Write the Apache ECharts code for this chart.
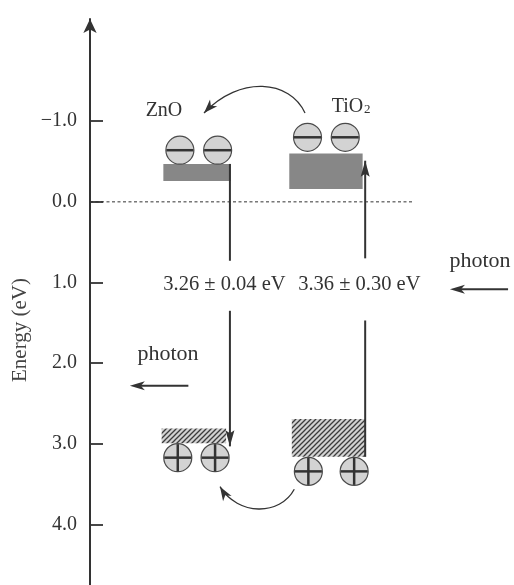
<!DOCTYPE html>
<html><head><meta charset="utf-8">
<script src="https://cdn.jsdelivr.net/npm/echarts@6/dist/echarts.min.js"></script>
<style>html,body{margin:0;padding:0;background:#fff}#c{width:514px;height:585px}</style>
</head><body><div id="c"></div>
<script>
// ---- data (energies in eV, axis points downward) ----
const tickValues = [-1, 0, 1, 2, 3, 4];
const materials = ['ZnO', 'TiO2'];
const cbTop = [-0.47, -0.60];
const cbBottom = [-0.26, -0.16];
const vbTop = [2.81, 2.69];
const vbBottom = [2.99, 3.16];
const gapLabels = ['3.26 ± 0.04 eV', '3.36 ± 0.30 eV'];
const electronEnergy = [-0.64, -0.80];
const holeEnergy = [3.17, 3.34];
const zeroLevel = 0;

// ---- layout (horizontal positions on a 0..100 scale, plus annotation anchors) ----
const layout = {
  cbX: [[17.3, 33.25], [47.0, 64.3]],
  vbX: [[16.9, 32.1], [47.6, 64.9]],
  electronX: [[21.2, 30.1], [51.3, 60.2]],
  holeX: [[20.7, 29.5], [51.5, 62.3]],
  transX: [33.0, 64.9],
  transSegs: [[[-0.47, 0.73], [1.35, 3.03]], [[3.16, 1.47], [0.70, -0.51]]],
  zeroLineEnd: 76,
  matLabel: [[17.45, -1.131], [57.0, -1.181]],
  gapLabelPos: [[17.3, 1.026], [49.1, 1.026]],
  photonText: [[91.98, 0.732], [18.4, 1.889]],
  photonArrow: [[[98.6, 1.083], [84.9, 1.083]], [[23.2, 2.28], [9.4, 2.28]]],
  curves: [
    [[50.71, -1.101], [47.17, -1.510], [35.38, -1.572], [26.89, -1.101]],
    [[48.18, 3.562], [44.81, 3.893], [34.91, 3.893], [30.66, 3.530]]
  ],
  yName: [-16.5, 1.588]
};

const FONT = '"Liberation Serif", "Times New Roman", serif';
const INK = '#333';

function hatchCanvas() {
  const s = 5, c = document.createElement('canvas');
  c.width = c.height = s;
  const g = c.getContext('2d');
  g.fillStyle = '#d2d2d2'; g.fillRect(0, 0, s, s);
  g.strokeStyle = '#3c3c3c'; g.lineWidth = 1.3;
  g.beginPath();
  g.moveTo(-1, s + 1); g.lineTo(s + 1, -1);
  g.moveTo(-1, 1); g.lineTo(1, -1);
  g.moveTo(s - 1, s + 1); g.lineTo(s + 1, s - 1);
  g.stroke();
  return c;
}
const hatch = { image: hatchCanvas(), repeat: 'repeat' };

function arrowHead(tip, from, L, W, notch) {
  const dx = tip[0] - from[0], dy = tip[1] - from[1];
  const len = Math.hypot(dx, dy), ux = dx / len, uy = dy / len, px = -uy, py = ux;
  const bx = tip[0] - ux * L, by = tip[1] - uy * L;
  return { type: 'polygon', shape: { points: [tip, [bx + px * W, by + py * W],
    [tip[0] - ux * (L - notch), tip[1] - uy * (L - notch)], [bx - px * W, by - py * W]] },
    style: { fill: INK } };
}
function line(a, b, w, dash) {
  return { type: 'line', shape: { x1: a[0], y1: a[1], x2: b[0], y2: b[1] },
    style: { stroke: INK, lineWidth: w, lineDash: dash || null } };
}
function text(t, p, size, align, extra) {
  return Object.assign({ type: 'text', style: { text: t, x: p[0], y: p[1], fill: INK,
    font: size + 'px ' + FONT, align: align || 'center', verticalAlign: 'middle' } }, extra || {});
}
function particle(c, plus) {
  const r = 14, g = [{ type: 'circle', shape: { cx: c[0], cy: c[1], r: r },
    style: { fill: '#d3d3d3', stroke: '#4a4a4a', lineWidth: 1.2 } }];
  g.push(line([c[0] - r + 0.5, c[1]], [c[0] + r - 0.5, c[1]], 2.5));
  if (plus) g.push(line([c[0], c[1] - r + 0.5], [c[0], c[1] + r - 0.5], 2.5));
  return g;
}

function renderItem(params, api) {
  const C = p => api.coord(p);
  const kids = [];
  kids.push(line(C([0, zeroLevel]), C([layout.zeroLineEnd, zeroLevel]), 1, [3, 2.5]));
  materials.forEach((m, i) => {
    const a = C([layout.cbX[i][0], cbTop[i]]), b = C([layout.cbX[i][1], cbBottom[i]]);
    kids.push({ type: 'rect', shape: { x: a[0], y: a[1], width: b[0] - a[0], height: b[1] - a[1] }, style: { fill: '#878787' } });
    const c = C([layout.vbX[i][0], vbTop[i]]), d = C([layout.vbX[i][1], vbBottom[i]]);
    kids.push({ type: 'rect', shape: { x: c[0], y: c[1], width: d[0] - c[0], height: d[1] - c[1] }, style: { fill: hatch } });
    layout.electronX[i].forEach(x => particle(C([x, electronEnergy[i]]), false).forEach(k => kids.push(k)));
    layout.holeX[i].forEach(x => particle(C([x, holeEnergy[i]]), true).forEach(k => kids.push(k)));
    const segs = layout.transSegs[i];
    segs.forEach((s, j) => {
      const p1 = C([layout.transX[i], s[0]]), p2 = C([layout.transX[i], s[1]]);
      kids.push(line(p1, p2, 2));
      if (j === segs.length - 1) kids.push(arrowHead(p2, p1, 16, 4.5, 3));
    });
    kids.push(text(gapLabels[i], C(layout.gapLabelPos[i]), 20.5, 'left'));
  });
  kids.push(text('ZnO', C(layout.matLabel[0]), 20, 'center'));
  const t = C(layout.matLabel[1]);
  kids.push(text('TiO', t, 20, 'left'));
  kids.push(text('2', [t[0] + 32.3, t[1] + 3], 13, 'left'));
  layout.photonText.forEach(p => kids.push(text('photon', C(p), 22, 'center')));
  layout.photonArrow.forEach(a => {
    const p1 = C(a[0]), p2 = C(a[1]);
    kids.push(line(p1, [p2[0] + 6, p2[1]], 2));
    kids.push(arrowHead(p2, p1, 15, 4.5, 4));
  });
  layout.curves.forEach(cv => {
    const p = cv.map(C);
    kids.push({ type: 'bezierCurve', shape: { x1: p[0][0], y1: p[0][1], cpx1: p[1][0], cpy1: p[1][1],
      cpx2: p[2][0], cpy2: p[2][1], x2: p[3][0], y2: p[3][1] }, style: { stroke: INK, lineWidth: 1.3, fill: null } });
    kids.push(arrowHead(p[3], p[2], 14, 5, 4));
  });
  const yn = C(layout.yName);
  kids.push({ type: 'text', x: yn[0], y: yn[1], rotation: Math.PI / 2,
    style: { text: 'Energy (eV)', x: 0, y: 0, fill: '#444', font: '21px ' + FONT, align: 'center', verticalAlign: 'middle' } });
  return { type: 'group', children: kids };
}

const chart = echarts.init(document.getElementById('c'));
chart.setOption({
  animation: false,
  backgroundColor: '#fff',
  grid: { left: 90, right: 0, top: 19, bottom: 0 },
  xAxis: { type: 'value', min: 0, max: 100, show: false },
  yAxis: {
    type: 'value', inverse: true, min: -2.266, max: 4.748,
    axisLine: { show: true, onZero: false, symbol: ['none', 'arrow'], symbolSize: [10, 14], lineStyle: { color: INK, width: 2 } },
    axisTick: { show: true, inside: true, length: 13, customValues: tickValues, lineStyle: { color: INK, width: 1.8 } },
    axisLabel: { customValues: tickValues, margin: 13, color: INK, fontFamily: FONT, fontSize: 20,
      formatter: v => (v < 0 ? '\u2212' : '') + Math.abs(v).toFixed(1) },
    splitLine: { show: false }
  },
  series: [{ type: 'custom', silent: true, clip: false, renderItem: renderItem, data: [[0, 0]] }]
});
</script></body></html>
